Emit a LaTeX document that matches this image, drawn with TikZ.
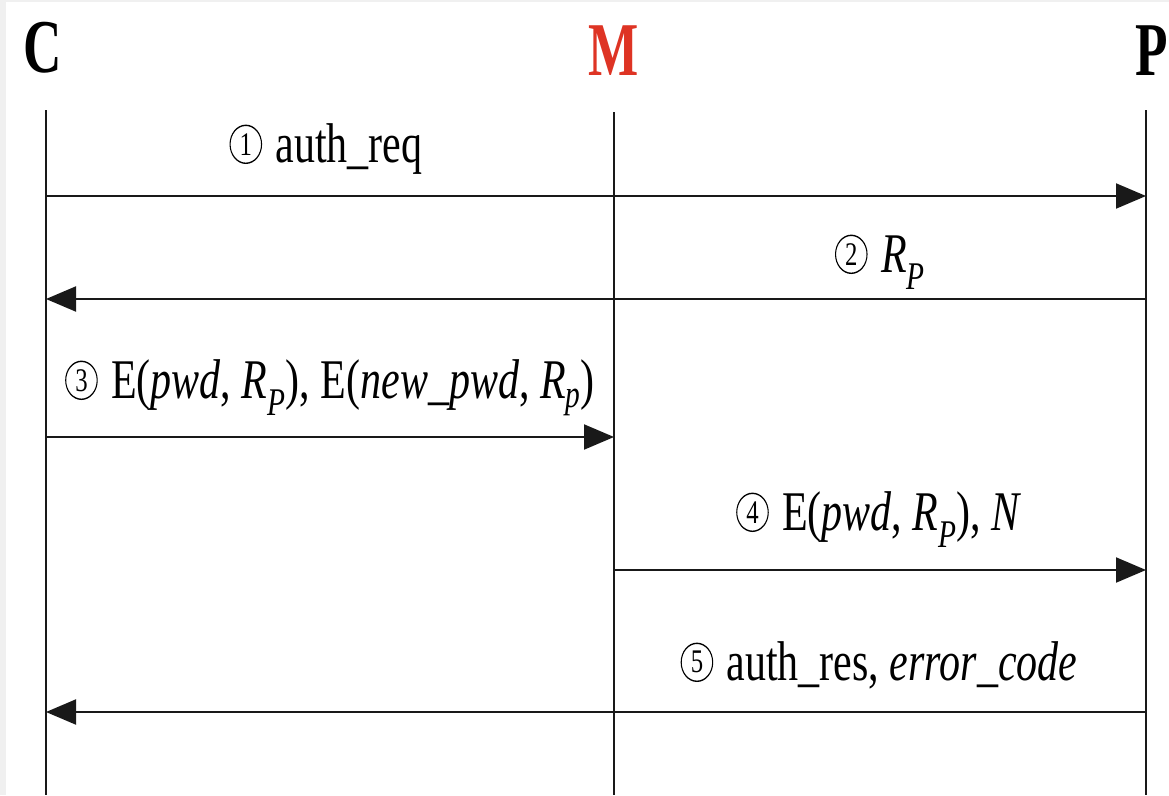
\documentclass[tikz,border=0pt]{standalone}
\usepackage{fontspec}
\setmainfont{Liberation Serif}
\usetikzlibrary{arrows.meta,shapes.geometric}
\definecolor{mred}{RGB}{222,52,36}
\definecolor{edgegray}{RGB}{240,240,240}
\newcommand\cnum[1]{\tikz[x=1cm,y=1cm,baseline={([yshift=2pt]c.south)}]\node[draw, ellipse, line width=1.4pt, minimum width=42pt, minimum height=38pt, inner sep=0pt, font=\fontsize{33}{36}\selectfont] (c) {#1};\hspace{0.32em}}
\begin{document}
\begin{tikzpicture}[x=1pt,y=-1pt,
  lifeline/.style={line width=2pt, black!90},
  msg/.style={line width=2pt, black!90, -{Triangle[length=30pt,width=25pt]}},
  lbl/.style={anchor=base, inner sep=0pt, font=\fontsize{56}{64}\selectfont, xscale=0.75},
  hdr/.style={anchor=base, inner sep=0pt, font=\fontsize{76}{88}\selectfont\bfseries, xscale=0.7}]
\fill[edgegray] (0,0) rectangle (1169,795);
\fill[white] (6,2) rectangle (1169,795);
\useasboundingbox (0,0) rectangle (1169,795);
% headers
\node[hdr] (hC) at (42.5,72) {C};
\node[hdr, text=mred] (hM) at (613.5,75) {M};
\node[hdr] (hP) at (1152,75) {P};
% lifelines
\coordinate (Ct) at (46,110); \coordinate (Cb) at (46,795);
\coordinate (Mt) at (614,112); \coordinate (Mb) at (614,795);
\coordinate (Pt) at (1146,110); \coordinate (Pb) at (1146,795);
\draw[lifeline] (Ct) -- (Cb);
\draw[lifeline] (Mt) -- (Mb);
\draw[lifeline] (Pt) -- (Pb);
% message points
\foreach \n/\y in {1/196,2/299,3/437,4/570,5/712}{
  \coordinate (C\n) at (46,\y);
  \coordinate (M\n) at (614,\y);
  \coordinate (P\n) at (1146,\y);
}
\draw[msg] (C1) -- (P1);
\draw[msg] (P2) -- (C2);
\draw[msg] (C3) -- (M3);
\draw[msg] (M4) -- (P4);
\draw[msg] (P5) -- (C5);
% labels
\node[lbl] (l1) at (326,162) {\cnum{1}auth\_req};
\node[lbl] (l2) at (880,272) {\cnum{2}\textit{R\textsubscript{P}}};
\node[lbl] (l3) at (330,398) {\cnum{3}E(\textit{pwd}, \textit{R\textsubscript{P}}), E(\textit{new\_pwd}, \textit{R\textsubscript{p}})};
\node[lbl] (l4) at (879,530) {\cnum{4}E(\textit{pwd}, \textit{R\textsubscript{P}}), \textit{N}};
\node[lbl] (l5) at (879,680) {\cnum{5}auth\_res, \textit{error\_code}};
\end{tikzpicture}
\end{document}
